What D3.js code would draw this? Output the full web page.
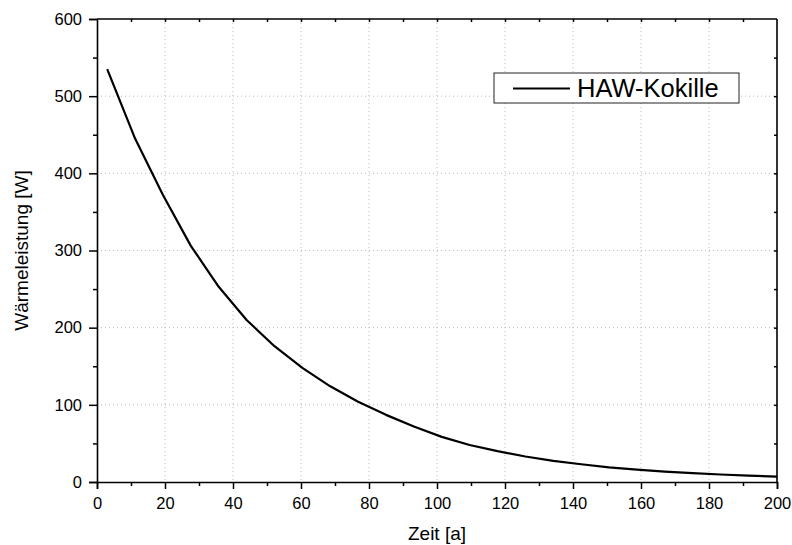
<!DOCTYPE html>
<html><head><meta charset="utf-8">
<script src="https://cdn.jsdelivr.net/npm/d3@7"></script>
<style>body{margin:0;background:#fff}svg{display:block}text{font-family:"Liberation Sans",Arial,sans-serif}</style>
</head><body><svg id="c" width="792" height="545"></svg>
<script>
const years = [3, 11.2, 19.4, 27.6, 35.8, 44, 52.2, 60.4, 68.6, 76.8, 85, 93.2, 101.4, 109.6, 117.8, 126, 134.2, 142.4, 150.6, 158.8, 167, 175.2, 183.4, 191.6, 200];
const power = [535, 445, 372, 306, 253, 210, 176, 148, 124, 104, 87, 72, 58.5, 48, 40, 33, 27.4, 23, 19, 16, 13.4, 11.4, 9.7, 8.2, 6.9];
const xTicks = [0, 20, 40, 60, 80, 100, 120, 140, 160, 180, 200];
const yTicks = [0, 100, 200, 300, 400, 500, 600];
const seriesName = "HAW-Kokille";
const xTitle = "Zeit [a]";
const yTitle = "Wärmeleistung [W]";

const svg = d3.select("#c");
const L = 97, R = 777, T = 19, B = 482;
const x = d3.scaleLinear().domain([0, 200]).range([L, R]);
const y = d3.scaleLinear().domain([0, 600]).range([B, T]);

// grid
const g = svg.append("g");
g.selectAll(".gx").data(xTicks.filter(d => d > 0 && d < 200)).join("line")
  .attr("x1", d => x(d)).attr("x2", d => x(d)).attr("y1", T).attr("y2", B)
  .attr("stroke", "#b8b8b8").attr("stroke-width", 1).attr("stroke-dasharray", "1,3");
g.selectAll(".gy").data(yTicks.filter(d => d > 0 && d < 600)).join("line")
  .attr("y1", d => y(d)).attr("y2", d => y(d)).attr("x1", L).attr("x2", R)
  .attr("stroke", "#b8b8b8").attr("stroke-width", 1).attr("stroke-dasharray", "1,3");

// axes
const fs = "16.5px";
const xAxis = d3.axisBottom(x).tickValues(xTicks).tickSize(7).tickPadding(8).tickFormat(d3.format("d"));
const xMinor = d3.axisBottom(x).tickValues(d3.range(10, 200, 20)).tickSize(4).tickFormat("");
const yAxis = d3.axisLeft(y).tickValues(yTicks).tickSize(8).tickPadding(7).tickFormat(d3.format("d"));
const yMinor = d3.axisLeft(y).tickValues(d3.range(50, 600, 100)).tickSize(4).tickFormat("");
const xTop = d3.axisBottom(x).tickValues(d3.range(10, 200, 10)).tickSize(3).tickFormat("");
const yRight = d3.axisLeft(y).tickValues(d3.range(50, 600, 50)).tickSize(3).tickFormat("");

function style(sel) {
  sel.select(".domain").attr("stroke", "#000").attr("stroke-width", 1.6);
  sel.selectAll(".tick line").attr("stroke", "#000").attr("stroke-width", 1.5);
  sel.selectAll(".tick text").attr("fill", "#000").style("font-size", fs).style("font-family", '"Liberation Sans",Arial,sans-serif');
}
svg.append("g").attr("transform", `translate(0,${B})`).call(xMinor).call(style).select(".domain").remove();
svg.append("g").attr("transform", `translate(${L},0)`).call(yMinor).call(style).select(".domain").remove();
svg.append("g").attr("transform", `translate(0,${T})`).call(xTop).call(style).select(".domain").remove();
svg.append("g").attr("transform", `translate(${R},0)`).call(yRight).call(style).select(".domain").remove();
svg.append("line").attr("x1", L).attr("x2", R).attr("y1", T).attr("y2", T).attr("stroke", "#000").attr("stroke-width", 1.6);
svg.append("line").attr("x1", R).attr("x2", R).attr("y1", T).attr("y2", B).attr("stroke", "#000").attr("stroke-width", 1.6);
svg.append("g").attr("transform", `translate(0,${B})`).call(xAxis).call(style);
svg.append("g").attr("transform", `translate(${L},0)`).call(yAxis).call(style);

// curve
const line = d3.line().x((d, i) => x(years[i])).y(d => y(d));
svg.append("path").datum(power).attr("d", line).attr("fill", "none")
  .attr("stroke", "#000").attr("stroke-width", 2.2).attr("stroke-linejoin", "round");

// titles
svg.append("text").attr("x", (L + R) / 2).attr("y", 540).attr("text-anchor", "middle")
  .style("font-size", "19px").text(xTitle);
svg.append("text").attr("transform", `translate(28,${(T + B) / 2}) rotate(-90)`).attr("text-anchor", "middle")
  .style("font-size", "19px").text(yTitle);

// legend
const lg = svg.append("g");
lg.append("rect").attr("x", 494).attr("y", 73).attr("width", 245).attr("height", 30)
  .attr("fill", "#fff").attr("stroke", "#222").attr("stroke-width", 1);
lg.append("line").attr("x1", 513).attr("x2", 570).attr("y1", 88.5).attr("y2", 88.5)
  .attr("stroke", "#000").attr("stroke-width", 2.2);
lg.append("text").attr("x", 577).attr("y", 97).style("font-size", "25.5px").text(seriesName);
</script></body></html>
